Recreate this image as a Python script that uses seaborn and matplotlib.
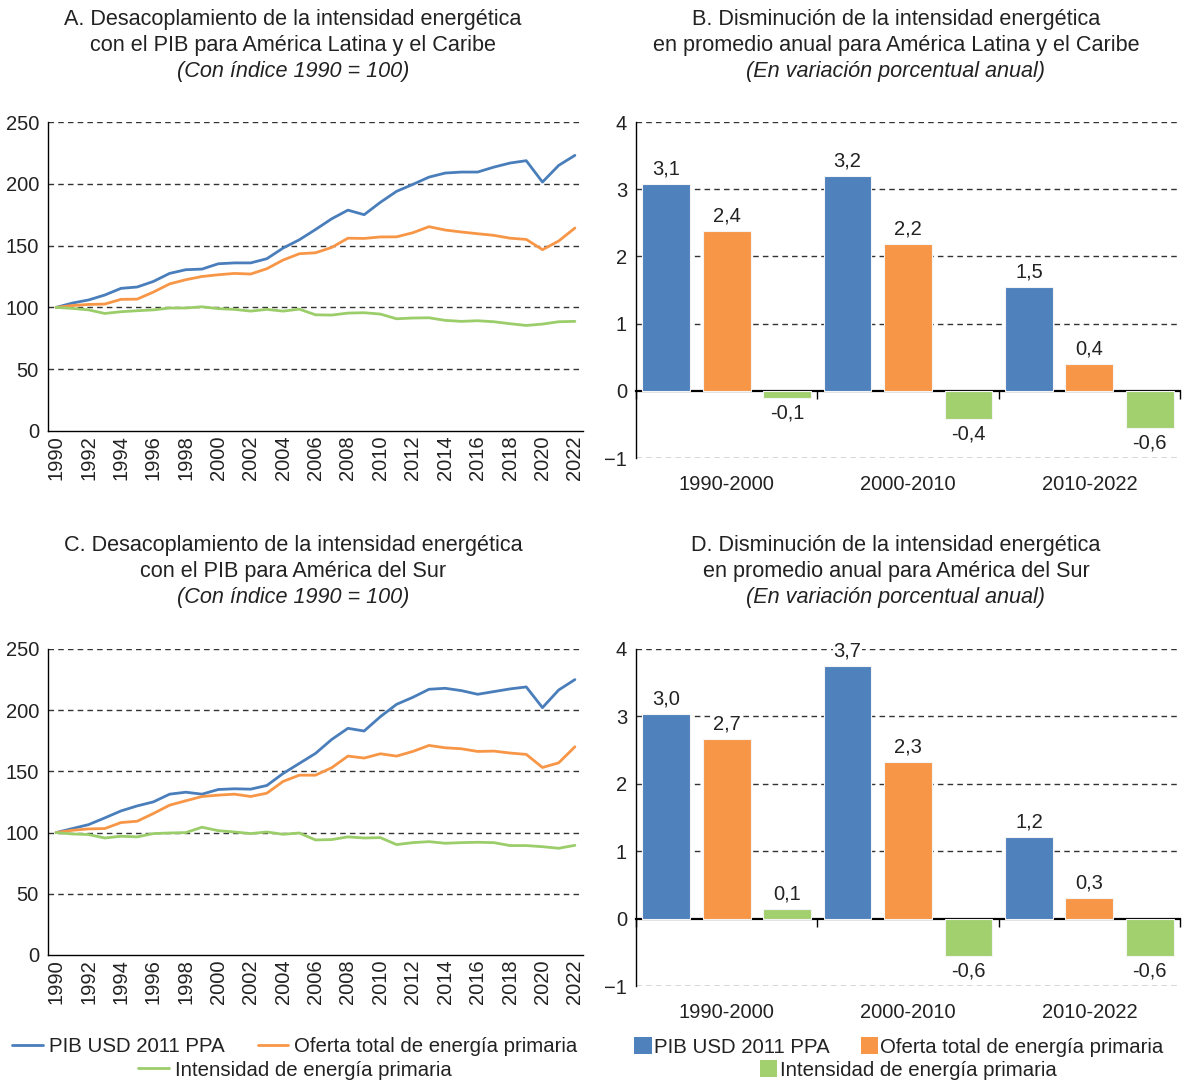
import numpy as np
import pandas as pd
import matplotlib
matplotlib.use('Agg')
import matplotlib.pyplot as plt
from matplotlib.lines import Line2D
from matplotlib.patches import Patch
import seaborn as sns

sns.set_style('white')
plt.rcParams['font.family'] = ['Liberation Sans', 'DejaVu Sans']
plt.rcParams['text.color'] = '#222222'
plt.rcParams['xtick.color'] = '#000000'
plt.rcParams['ytick.color'] = '#000000'
plt.rcParams['xtick.labelcolor'] = '#222222'
plt.rcParams['ytick.labelcolor'] = '#222222'

# datos
anios = list(range(1990, 2023))

pib_alc = [100, 103.5, 106, 110, 115.4, 116.5, 121, 127.5, 130.5, 131, 135.3, 136, 136, 139.4,
           148, 154.7, 163, 171.7, 178.7, 175, 185, 193.9, 199.5, 205.4, 208.7, 209.5, 209.5,
           213.5, 216.8, 218.7, 201.4, 214.9, 223]
oferta_alc = [100, 101.5, 102.4, 102.7, 106.5, 106.7, 112.4, 119, 122.4, 125, 126.4, 127.5, 127,
              131.3, 138.3, 143.4, 144.2, 148.5, 156, 155.8, 157, 157.1, 160.4, 165.3, 162.6, 161,
              159.6, 158.3, 156, 155, 146.7, 153.7, 164.2]
intens_alc = [100, 99.2, 98, 95.1, 96.5, 97.3, 98, 99.5, 99.5, 100.5, 99, 98.4, 97, 98.4, 97, 98.6,
              94, 93.8, 95.4, 95.7, 94.6, 90.8, 91.4, 91.6, 89.5, 88.7, 89.2, 88.4, 86.8, 85.4,
              86.5, 88.4, 88.7]

pib_as = [100, 103.3, 106.5, 112, 117.7, 121.8, 125.1, 131.4, 133, 131.4, 135.2, 135.8, 135.5,
          138.5, 148.3, 156.5, 164.7, 176.1, 185.2, 183, 194.7, 204.8, 210.5, 217.1, 217.9, 216,
          213, 215.2, 217.4, 219, 202.1, 216.5, 225]
oferta_as = [100, 101.9, 103, 103.3, 108.2, 109.3, 115.6, 122.4, 126, 129.5, 130.6, 131.4, 129.5,
             132.2, 141.8, 146.9, 146.9, 153, 162.5, 160.9, 164.4, 162.5, 166.3, 171.2, 169.3,
             168.5, 166.3, 166.6, 165, 163.9, 153.2, 157, 170.1]
intens_as = [100, 98.9, 98.4, 95.6, 97, 96.5, 99.2, 99.7, 100, 104.4, 101.6, 100.5, 99.2, 100.5,
             98.6, 99.7, 94, 94.3, 96.5, 95.6, 95.9, 90.2, 91.8, 92.6, 91.3, 91.8, 92.1, 91.8,
             89.4, 89.4, 88.5, 87.2, 89.6]

periodos = ['1990-2000', '2000-2010', '2010-2022']
pib_b = [3.08, 3.19, 1.54]
oferta_b = [2.38, 2.19, 0.40]
intens_b = [-0.11, -0.42, -0.56]
etiq_b = [['3,1', '3,2', '1,5'], ['2,4', '2,2', '0,4'], ['-0,1', '-0,4', '-0,6']]

pib_d = [3.03, 3.75, 1.21]
oferta_d = [2.67, 2.33, 0.31]
intens_d = [0.14, -0.56, -0.56]
etiq_d = [['3,0', '3,7', '1,2'], ['2,7', '2,3', '0,3'], ['0,1', '-0,6', '-0,6']]

series = ['PIB USD 2011 PPA', 'Oferta total de energía primaria', 'Intensidad de energía primaria']
lin_colores = ['#4a7ebb', '#f79646', '#9bcd6a']
bar_colores = ['#4f81bd', '#f79646', '#a2d06f']

W, H = 1183, 1081
fig = plt.figure(figsize=(W / 100, H / 100), dpi=100)


def px(x0, y0, x1, y1):
    return [x0 / W, 1 - y1 / H, (x1 - x0) / W, (y1 - y0) / H]


def lineas(ax, pib, oferta, intens):
    df = pd.DataFrame({'anio': anios * 3,
                       'valor': pib + oferta + intens,
                       'serie': [series[0]] * 33 + [series[1]] * 33 + [series[2]] * 33})
    sns.lineplot(data=df, x='anio', y='valor', hue='serie', hue_order=series,
                 palette=lin_colores, linewidth=2.0, legend=False, ax=ax)
    ax.set_xlim(1989.5, 2022.5)
    ax.set_ylim(0, 250)
    ax.set_yticks(range(0, 251, 50))
    ax.set_xticks(np.arange(1989.5, 2023, 1))
    ax.set_xticklabels([])
    ax.set_xticks(range(1990, 2023, 2), minor=True)
    ax.set_xticklabels([str(a) for a in range(1990, 2023, 2)], minor=True, rotation=90)
    ax.tick_params(axis='x', which='major', length=6, width=1, direction='out')
    ax.tick_params(axis='x', which='minor', length=0, pad=3, labelsize=14.5)
    ax.tick_params(axis='y', length=7, width=1, direction='inout', labelsize=14.5, pad=3)
    ax.set_xlabel('')
    ax.set_ylabel('')
    for y in [50, 100, 150, 200, 250]:
        ax.axhline(y, color='#333333', lw=1, ls=(0, (4, 3)), zorder=0)
    for s in ['top', 'right']:
        ax.spines[s].set_visible(False)
    for s in ['left', 'bottom']:
        ax.spines[s].set_color('#000000')
        ax.spines[s].set_linewidth(1)


def barras(ax, pib, oferta, intens, etiq):
    df = pd.DataFrame({'periodo': periodos * 3,
                       'valor': pib + oferta + intens,
                       'serie': [series[0]] * 3 + [series[1]] * 3 + [series[2]] * 3})
    sns.barplot(data=df, x='periodo', y='valor', hue='serie', hue_order=series,
                palette=bar_colores, width=1.0, gap=0.21, saturation=1,
                edgecolor='#f4f4f4', linewidth=0.8, legend=False, ax=ax, zorder=3)
    for cont, lab in zip(ax.containers, etiq):
        txts = ax.bar_label(cont, labels=lab, padding=4, fontsize=14.5, color='#222222', zorder=4)
        for t in txts:
            t.set_bbox(dict(fc='white', ec='none', pad=0.5))
    ax.set_xlim(-0.5, 2.5)
    ax.set_ylim(-1, 4)
    ax.set_yticks(range(-1, 5))
    ax.set_xticks([-0.5, 0.5, 1.5, 2.5], minor=True)
    ax.tick_params(axis='x', which='major', length=0, pad=12, labelsize=14.5)
    ax.tick_params(axis='x', which='minor', length=6, width=1, direction='out', color='#333333')
    ax.tick_params(axis='y', length=7, width=1, direction='inout', labelsize=14.5, pad=3)
    ax.set_xlabel('')
    ax.set_ylabel('')
    for y in [-1, 1, 2, 3, 4]:
        ax.axhline(y, color='#333333', lw=1, ls=(0, (4, 3)), zorder=0)
    for s in ['top', 'right', 'bottom']:
        ax.spines[s].set_visible(False)
    ax.spines['left'].set_color('#000000')
    ax.spines['left'].set_linewidth(1)
    sec = ax.secondary_xaxis(0, transform=ax.transData)
    sec.set_xticks([-0.5, 0.5, 1.5, 2.5], labels=['', '', '', ''])
    sec.tick_params(length=6, width=1, direction='out', color='#000000')
    sec.spines['bottom'].set_linewidth(1.6)
    sec.spines['bottom'].set_color('#000000')


ax_a = fig.add_axes(px(48, 122, 583, 431))
ax_b = fig.add_axes(px(636, 122, 1180, 458))
ax_c = fig.add_axes(px(48, 649, 583, 955))
ax_d = fig.add_axes(px(636, 649, 1180, 986))

lineas(ax_a, pib_alc, oferta_alc, intens_alc)
lineas(ax_c, pib_as, oferta_as, intens_as)
barras(ax_b, pib_b, oferta_b, intens_b, etiq_b)
barras(ax_d, pib_d, oferta_d, intens_d, etiq_d)

titulos = [
    (293, 19, ['A. Desacoplamiento de la intensidad energética',
               'con el PIB para América Latina y el Caribe',
               '(Con índice 1990 = 100)']),
    (896, 19, ['B. Disminución de la intensidad energética',
               'en promedio anual para América Latina y el Caribe',
               '(En variación porcentual anual)']),
    (293, 546, ['C. Desacoplamiento de la intensidad energética',
                'con el PIB para América del Sur',
                '(Con índice 1990 = 100)']),
    (896, 546, ['D. Disminución de la intensidad energética',
                'en promedio anual para América del Sur',
                '(En variación porcentual anual)']),
]
for x, y, lineas_t in titulos:
    for i, t in enumerate(lineas_t):
        fig.text(x / W, 1 - (y + 26 * i) / H, t, ha='center', va='center', fontsize=15.6,
                 style='italic' if i == 2 else 'normal')

# leyendas
h_lin = [Line2D([], [], color=c, lw=2) for c in lin_colores]
h_bar = [Patch(facecolor=c, edgecolor='none') for c in bar_colores]
kw = dict(frameon=False, fontsize=14.7, loc='center', borderpad=0, borderaxespad=0)
fig.legend(h_lin[:2], series[:2], ncol=2, columnspacing=1.6, handlelength=1.5, handletextpad=0.3,
           bbox_to_anchor=(295 / W, 1 - 1047 / H), **kw)
fig.legend(h_lin[2:], series[2:], handlelength=1.5, handletextpad=0.3,
           bbox_to_anchor=(295 / W, 1 - 1070 / H), **kw)
fig.legend(h_bar[:2], series[:2], ncol=2, columnspacing=1.5, handlelength=0.85, handleheight=0.85,
           handletextpad=0.12, bbox_to_anchor=(899 / W, 1 - 1047 / H), **kw)
fig.legend(h_bar[2:], series[2:], handlelength=0.85, handleheight=0.85, handletextpad=0.12,
           bbox_to_anchor=(908 / W, 1 - 1070 / H), **kw)

fig.savefig('out.png', dpi=100)
